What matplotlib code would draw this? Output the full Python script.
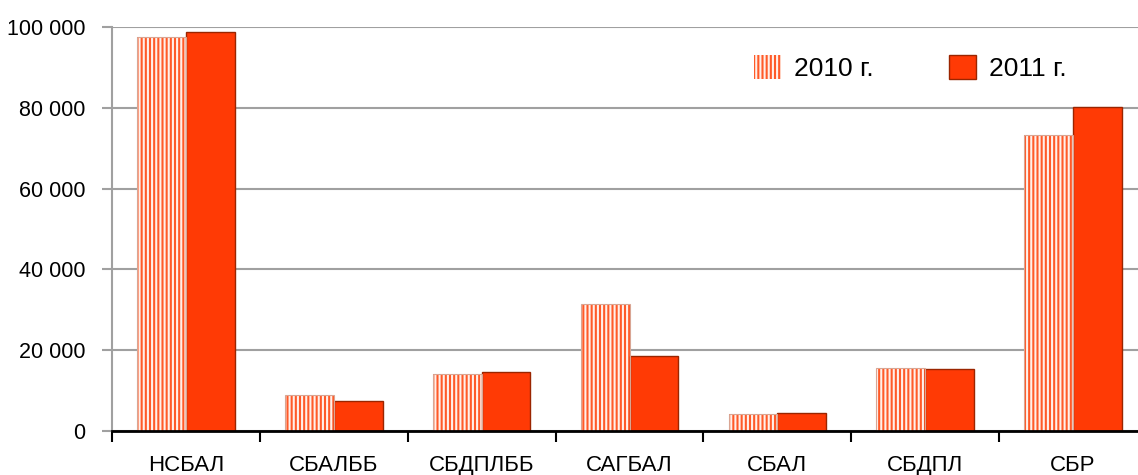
import numpy as np
import matplotlib.pyplot as plt
from matplotlib.patches import Patch

categories = ['НСБАЛ', 'СБАЛББ', 'СБДПЛББ', 'САГБАЛ', 'СБАЛ', 'СБДПЛ', 'СБР']
values_2010 = [97500, 8900, 14100, 31400, 4200, 15600, 73300]
values_2011 = [98800, 7400, 14600, 18600, 4500, 15300, 80200]
series_labels = ['2010 г.', '2011 г.']
yticks = [0, 20000, 40000, 60000, 80000, 100000]

plt.rcParams['hatch.linewidth'] = 1.5
plt.rcParams['font.family'] = ['Liberation Sans', 'DejaVu Sans']

fig = plt.figure(figsize=(11.38, 4.75), dpi=100)
# right edge intentionally a bit beyond the figure, as in the original
ax = fig.add_axes([112 / 1138, 44 / 475, 1035 / 1138, 404 / 475])

x = np.arange(len(categories))
w = 0.33

red = '#FF3A05'
light = '#FF5A28'
stripe = '#FFF0EA'

# 2010: striped bars
ax.bar(x - w / 2, values_2010, w, color=light, edgecolor=stripe,
       hatch='||||', linewidth=0, zorder=3)
ax.bar(x - w / 2, values_2010, w, fill=False, edgecolor='#D9A593',
       linewidth=0.8, zorder=4)
# 2011: solid bars
ax.bar(x + w / 2, values_2011, w, color=red, edgecolor='#9A2500',
       linewidth=1.0, zorder=3)

ax.set_xlim(-0.5, len(categories) - 0.5)
ax.set_ylim(0, 100000)
ax.set_yticks(yticks)
ax.set_yticklabels([f'{v:,}'.replace(',', ' ') for v in yticks], fontsize=15.5)
ax.yaxis.grid(True, color='#A0A0A0', linewidth=1.5, zorder=0)
ax.set_axisbelow(True)

ax.set_xticks(np.arange(len(categories) + 1) - 0.5)
ax.set_xticklabels([])
ax.set_xticks(x, minor=True)
ax.set_xticklabels(categories, minor=True, fontsize=16)
ax.tick_params(axis='x', which='major', length=8, width=1.5, color='black', direction='out')
ax.tick_params(axis='x', which='minor', length=0, pad=17)
ax.tick_params(axis='y', length=7, width=1.5, color='#A0A0A0', pad=12)

for s in ['top', 'right']:
    ax.spines[s].set_visible(False)
ax.spines['left'].set_color('#A0A0A0')
ax.spines['left'].set_linewidth(1.5)
ax.spines['bottom'].set_color('black')
ax.spines['bottom'].set_linewidth(2)
ax.spines['bottom'].set_zorder(5)

handles = [Patch(facecolor=light, edgecolor=stripe, hatch='||||', linewidth=0),
           Patch(facecolor=red, edgecolor='#9A2500')]
leg = ax.legend(handles, series_labels, ncol=2, loc='upper right',
                bbox_to_anchor=(0.945, 0.99), frameon=False,
                handlelength=1.02, handleheight=1.02, columnspacing=2.85,
                handletextpad=0.5, prop={'size': 19})

fig.savefig('out.png', dpi=100)
